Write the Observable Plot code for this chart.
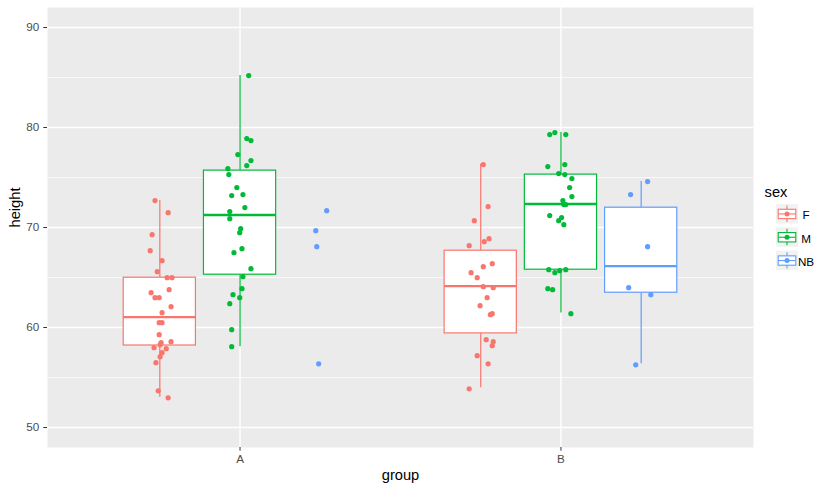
<!DOCTYPE html>
<html>
<head>
<meta charset="utf-8">
<script src="https://cdn.jsdelivr.net/npm/d3@7"></script>
<script src="https://cdn.jsdelivr.net/npm/@observablehq/plot@0.6"></script>
<style>
  body { margin: 0; background: #ffffff; }
  #chart { position: relative; width: 837px; height: 492px; }
</style>
</head>
<body>
<div id="chart"></div>
<script>
// ---- data ----
const groups = ["A", "B"];
const sexes = ["F", "M", "NB"];
const sexColors = ["#F8766D", "#00BA38", "#619CFF"];
const yTicks = [50, 60, 70, 80, 90];
const yMinor = [55, 65, 75, 85];

// jittered observations (height) and their horizontal jitter (in category units)
const hAF = [72.69, 71.48, 69.28, 67.68, 66.68, 65.58, 64.98, 64.98, 63.78, 63.48, 62.98, 62.98, 62.08, 61.48, 60.48, 60.48, 59.28, 58.58, 58.48, 58.28, 57.98, 57.88, 57.48, 57.08, 56.48, 53.67, 52.97];
const jAF = [-0.015, 0.026, -0.024, -0.030, 0.007, -0.008, 0.023, 0.038, 0.029, -0.027, -0.015, -0.002, 0.035, 0.007, -0.002, 0.007, -0.002, 0.035, 0.004, 0.001, -0.018, 0.020, 0.007, 0.001, -0.012, -0.005, 0.026];
const hAM = [85.19, 78.89, 78.69, 77.29, 76.69, 76.19, 75.89, 75.29, 73.99, 73.19, 73.29, 71.99, 71.59, 70.88, 69.88, 69.48, 67.88, 67.48, 65.88, 65.08, 63.88, 63.28, 62.98, 62.38, 59.78, 58.08];
const jAM = [0.027, 0.021, 0.034, -0.007, 0.034, 0.021, -0.038, -0.035, -0.010, -0.026, 0.009, 0.015, -0.032, -0.032, 0.002, -0.001, 0.006, -0.019, 0.034, 0.009, 0.006, -0.022, -0.001, -0.032, -0.026, -0.026];
const hANB = [71.68, 69.68, 68.08, 56.37];
const jANB = [0.020, -0.014, -0.011, -0.005];
const hBF = [76.29, 72.09, 70.68, 68.88, 68.58, 68.18, 66.38, 66.08, 65.48, 64.98, 64.08, 63.98, 62.98, 62.18, 61.38, 61.28, 58.78, 58.58, 58.18, 57.18, 56.37, 53.87];
const jBF = [0.008, 0.023, -0.020, 0.026, 0.011, -0.036, 0.036, 0.008, -0.030, -0.011, 0.008, 0.039, 0.020, -0.002, 0.036, 0.030, 0.017, 0.039, 0.036, -0.011, 0.023, -0.036];
const hBM = [79.29, 79.49, 79.29, 76.09, 76.29, 75.39, 75.29, 74.89, 73.99, 73.09, 72.69, 72.29, 72.29, 71.19, 70.99, 70.68, 70.28, 65.78, 65.68, 65.78, 65.48, 63.88, 63.78, 61.38];
const jBM = [-0.035, -0.019, 0.015, -0.041, 0.012, -0.007, 0.012, 0.034, 0.027, 0.034, 0.006, 0.009, 0.015, -0.035, 0.002, -0.007, 0.009, -0.038, -0.004, 0.015, -0.019, -0.041, -0.026, 0.031];
const hBNB = [74.59, 73.29, 68.08, 63.98, 63.28, 56.27];
const jBNB = [0.020, -0.033, 0.020, -0.039, 0.030, -0.017];

// box statistics
const boxGroup = ["A", "A", "B", "B", "B"];
const boxSex   = ["F", "M", "F", "M", "NB"];
const boxLow   = [53.03, 58.08, 53.97, 61.44, 56.37];
const boxQ1    = [58.20, 65.28, 59.41, 65.78, 63.48];
const boxMed   = [61.04, 71.25, 64.14, 72.35, 66.14];
const boxQ3    = [64.98, 75.69, 67.68, 75.29, 71.98];
const boxHigh  = [72.70, 85.20, 76.32, 79.49, 74.59];

// ---- build tables ----
const dodge = 0.25, boxW = 0.225;
const center = (g, s) => groups.indexOf(g) + 1 + (sexes.indexOf(s) - 1) * dodge;

const series = [
  ["A", "F", hAF, jAF], ["A", "M", hAM, jAM], ["A", "NB", hANB, jANB],
  ["B", "F", hBF, jBF], ["B", "M", hBM, jBM], ["B", "NB", hBNB, jBNB]
];
const points = series.flatMap(([g, s, hs, js]) =>
  hs.map((h, i) => ({group: g, sex: s, height: h, xp: center(g, s) + js[i]})));

const boxes = boxGroup.map((g, i) => ({
  group: g, sex: boxSex[i], c: center(g, boxSex[i]),
  low: boxLow[i], q1: boxQ1[i], med: boxMed[i], q3: boxQ3[i], high: boxHigh[i]
}));

const font = "'Liberation Sans', Arial, sans-serif";

const plot = Plot.plot({
  width: 837,
  height: 492,
  marginLeft: 47,
  marginRight: 84,
  marginTop: 7,
  marginBottom: 45,
  style: {fontFamily: font, background: "transparent", overflow: "visible"},
  x: {type: "linear", domain: [0.4, 2.6]},
  y: {domain: [48, 92]},
  color: {domain: sexes, range: sexColors},
  marks: [
    Plot.frame({fill: "#EBEBEB", stroke: "none"}),
    Plot.ruleY(yMinor, {stroke: "white", strokeWidth: 0.7}),
    Plot.ruleY(yTicks, {stroke: "white", strokeWidth: 1.4}),
    Plot.ruleX([1, 2], {stroke: "white", strokeWidth: 1.4}),
    // whiskers
    Plot.ruleX(boxes, {x: "c", y1: "low", y2: "q1", stroke: "sex", strokeWidth: 1.2}),
    Plot.ruleX(boxes, {x: "c", y1: "q3", y2: "high", stroke: "sex", strokeWidth: 1.2}),
    // boxes
    Plot.rect(boxes, {x1: d => d.c - boxW / 2, x2: d => d.c + boxW / 2, y1: "q1", y2: "q3",
      fill: "white", stroke: "sex", strokeWidth: 1.2}),
    Plot.ruleY(boxes, {y: "med", x1: d => d.c - boxW / 2, x2: d => d.c + boxW / 2,
      stroke: "sex", strokeWidth: 2.3}),
    // jittered points
    Plot.dot(points, {x: "xp", y: "height", fill: "sex", r: 2.6, stroke: "none"}),
    // axes
    Plot.axisX({ticks: [1, 2], tickFormat: d => groups[d - 1], tickSize: 3.7, tickPadding: 3,
      stroke: "#333333", fill: "#4D4D4D", fontSize: 11.7, label: null}),
    Plot.axisY({ticks: yTicks, tickSize: 3.7, tickPadding: 4.5,
      stroke: "#333333", fill: "#4D4D4D", fontSize: 11.7, label: null}),
    Plot.text(["group"], {frameAnchor: "bottom", dy: 32.5, fontSize: 14.7, fill: "black"}),
    Plot.text(["height"], {frameAnchor: "left", dx: -32, rotate: -90, fontSize: 14.7, fill: "black"})
  ]
});

document.getElementById("chart").appendChild(plot);

// ---- legend ----
const svg = d3.select(plot);
const lg = svg.append("g").attr("font-family", font);
lg.append("text").attr("x", 776).attr("y", 197).attr("font-size", 14.7).attr("fill", "black").text("sex");
sexes.forEach((s, i) => {
  const top = 204 + i * 23.3, kx = 776, kw = 22, kh = 19.5;
  const col = sexColors[i];
  const g = lg.append("g");
  g.append("rect").attr("x", kx).attr("y", top).attr("width", kw).attr("height", kh).attr("fill", "#F2F2F2");
  const cx = kx + kw / 2;
  g.append("line").attr("x1", cx).attr("x2", cx).attr("y1", top + kh * 0.08).attr("y2", top + kh * 0.92)
    .attr("stroke", col).attr("stroke-width", 1.1);
  g.append("rect").attr("x", kx + kw * 0.1).attr("y", top + kh * 0.27).attr("width", kw * 0.8).attr("height", kh * 0.48)
    .attr("fill", "white").attr("stroke", col).attr("stroke-width", 1.1);
  g.append("line").attr("x1", kx + kw * 0.1).attr("x2", kx + kw * 0.9).attr("y1", top + kh * 0.51).attr("y2", top + kh * 0.51)
    .attr("stroke", col).attr("stroke-width", 1.1);
  g.append("circle").attr("cx", cx).attr("cy", top + kh * 0.51).attr("r", 2.5).attr("fill", col);
  g.append("text").attr("x", 806).attr("y", top + kh / 2 + 2).attr("dy", "0.32em")
    .attr("font-size", 11.7).attr("fill", "black").text(s);
});
</script>
</body>
</html>
